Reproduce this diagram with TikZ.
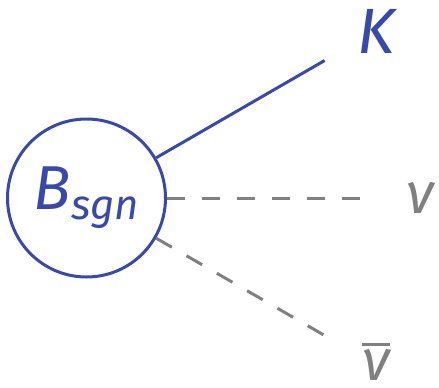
\documentclass[tikz,border=0pt]{standalone}
\usepackage{fontspec}
\setmainfont{Fira Sans}
\usetikzlibrary{calc}
\definecolor{myblue}{RGB}{57,73,171}
\definecolor{mygray}{RGB}{128,128,128}
\newcommand\ovlbar[1]{\setbox0\hbox{#1}\vbox{\hrule height 3pt width \wd0\kern 4pt\box0}}
\tikzset{
  bnode/.style={circle, draw=myblue, line width=3pt, minimum size=158pt, inner sep=0pt, text=myblue},
  solidline/.style={draw=myblue, line width=3pt},
  dashline/.style={draw=mygray, line width=3pt, dash pattern=on 18pt off 17pt},
  lbl/.style={inner sep=0pt, font=\fontsize{64}{70}\selectfont\itshape},
  glbl/.style={inner sep=0pt, text=mygray, font=\fontsize{58}{64}\selectfont\itshape}
}
\begin{document}
\begin{tikzpicture}[x=1pt,y=1pt]
\useasboundingbox (0,0) rectangle (439,-388);
\node[bnode] (b) at (86.5,-198) {\fontsize{62}{70}\selectfont\itshape B\raisebox{-10pt}{\fontsize{42}{48}\selectfont sgn}};
\coordinate (kend) at ($(b)+(30:275)$);
\coordinate (nend) at ($(b)+(0:275)$);
\coordinate (bend) at ($(b)+(-30:275)$);
\node[lbl, text=myblue] (k) at ($(b)+(30:334)$) {K};
\node[glbl] (nu) at ($(b)+(0:334)$) {ν};
\node[glbl, anchor=south] (nubar) at (376,-381) {\ovlbar{ν}};
\draw[solidline] (b) -- (kend);
\draw[dashline] (b) -- (nend);
\draw[dashline] (b) -- (bend);
\end{tikzpicture}
\end{document}
